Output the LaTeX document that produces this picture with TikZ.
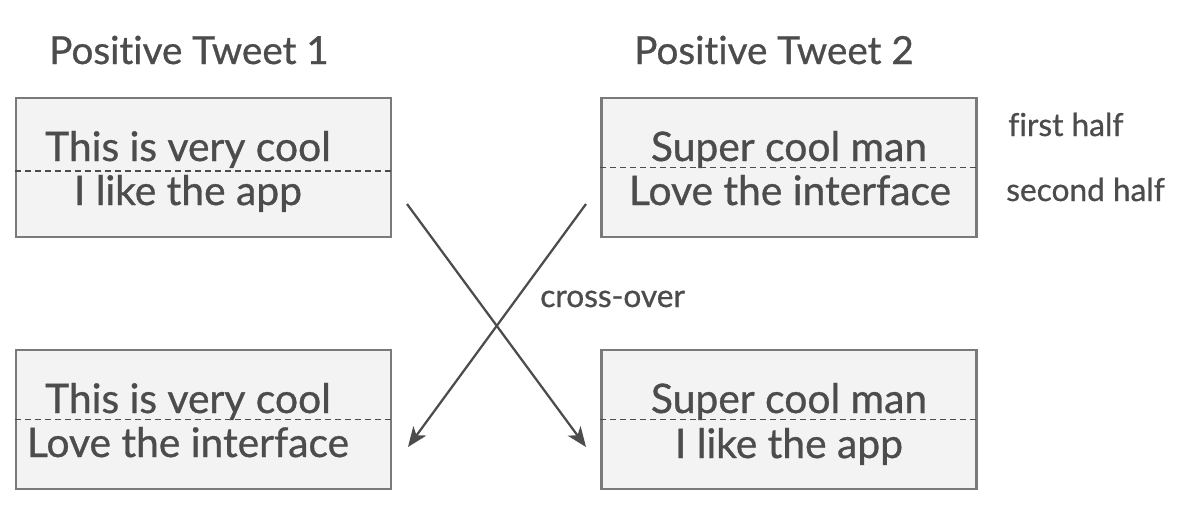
\documentclass[tikz,border=0pt]{standalone}
\usepackage{fontspec}
\setmainfont{Lato}[RawFeature=-liga]
\newfontfamily\tweetfont{Lato}[RawFeature=-liga,FakeBold=0.8]
\usetikzlibrary{arrows.meta}
\definecolor{boxfill}{HTML}{F3F3F3}
\definecolor{boxline}{HTML}{7A7A7A}
\definecolor{inkgray}{HTML}{4C4C4C}
\tikzset{
  tweetbox/.style={draw=boxline,line width=1.6pt,fill=boxfill,minimum width=9.375cm,minimum height=3.475cm,inner sep=0pt},
  halfline/.style={draw=inkgray,line width=1.4pt,dash pattern=on 0.15cm off 0.1cm},
  bigtext/.style={anchor=base,inner sep=0pt,text=inkgray,font=\tweetfont\fontsize{29}{33}\selectfont},
  titletext/.style={bigtext,font=\tweetfont\fontsize{27.5}{32}\selectfont},
  smalltext/.style={anchor=base west,inner sep=0pt,text=inkgray,font=\tweetfont\fontsize{22.5}{26}\selectfont},
  swap/.style={draw=inkgray,line width=1.6pt,-{Stealth[length=0.5cm,width=0.4cm,inset=0.14cm]}}
}
\begin{document}
\begin{tikzpicture}[x=0.025cm,y=-0.025cm]
\useasboundingbox (0,0) rectangle (1184,526);

% titles
\node[titletext] (title1) at (189,64) {Positive Tweet 1};
\node[titletext] (title2) at (774,64) {Positive Tweet 2};

% parent tweets
\node[tweetbox] (tl) at (203.5,167.5) {};
\node[tweetbox] (tr) at (789,167.5) {};
\draw[halfline] ([yshift=-0.08cm]tl.west) -- ([yshift=-0.08cm]tl.east);
\draw[halfline] (tr.west) -- (tr.east);
\node[bigtext] (tl1) at (188,161) {This is very cool};
\node[bigtext] (tl2) at (188,205) {I like the app};
\node[bigtext] (tr1) at (789,161) {Super cool man};
\node[bigtext] (tr2) at (790,205) {Love the interface};

% children
\node[tweetbox] (bl) at (203.5,419.5) {};
\node[tweetbox] (br) at (789,419.5) {};
\draw[halfline] (bl.west) -- (bl.east);
\draw[halfline] (br.west) -- (br.east);
\node[bigtext] (bl1) at (188,413) {This is very cool};
\node[bigtext] (bl2) at (188,457) {Love the interface};
\node[bigtext] (br1) at (789,413) {Super cool man};
\node[bigtext] (br2) at (789,458) {I like the app};

% side labels
\node[smalltext] (first) at (1008,136) {first half};
\node[smalltext] (second) at (1006,201) {second half};

% cross-over arrows
\coordinate (from1) at (407,204);
\coordinate (to1) at (586,447);
\coordinate (from2) at (586,204);
\coordinate (to2) at (408,447);
\draw[swap] (from1) -- (to1);
\draw[swap] (from2) -- (to2);
\node[smalltext] (cross) at (540,307) {cross-over};
\end{tikzpicture}
\end{document}
